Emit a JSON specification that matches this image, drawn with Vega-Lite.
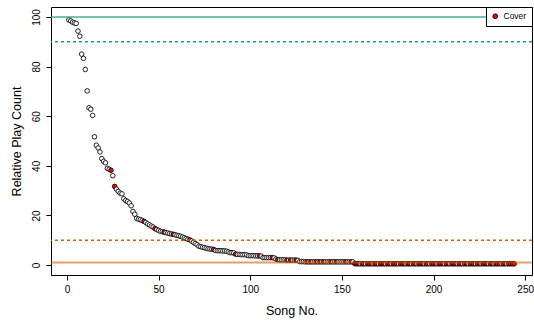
{
  "$schema": "https://vega.github.io/schema/vega-lite/v6.json",
  "width": 481,
  "height": 268,
  "autosize": "none",
  "padding": {"left": 51, "top": 7, "right": 2, "bottom": 47},
  "config": {
    "font": "Liberation Sans",
    "view": {"stroke": "black", "strokeWidth": 1},
    "axis": {"domain": false, "grid": false, "tickColor": "black", "tickSize": 5, "labelFontSize": 10, "labelColor": "black", "titleFontSize": 12.5, "titleFontWeight": "normal", "titleColor": "black"}
  },
  "layer": [
    {
      "data": {"values": [
        {"song":1,"count":98.8,"type":"Original"},{"song":2,"count":98.4,"type":"Original"},{"song":3,"count":97.9,"type":"Original"},{"song":4,"count":97.6,"type":"Original"},{"song":5,"count":97.4,"type":"Original"},
        {"song":6,"count":94.3,"type":"Original"},{"song":7,"count":92.2,"type":"Original"},{"song":8,"count":85.0,"type":"Original"},{"song":9,"count":83.3,"type":"Original"},{"song":10,"count":78.8,"type":"Original"},
        {"song":11,"count":70.2,"type":"Original"},{"song":12,"count":63.4,"type":"Original"},{"song":13,"count":62.8,"type":"Original"},{"song":14,"count":60.3,"type":"Original"},{"song":15,"count":51.7,"type":"Original"},
        {"song":16,"count":48.3,"type":"Original"},{"song":17,"count":47.2,"type":"Original"},{"song":18,"count":45.6,"type":"Original"},{"song":19,"count":42.9,"type":"Original"},{"song":20,"count":41.8,"type":"Original"},
        {"song":21,"count":41.2,"type":"Original"},{"song":22,"count":39.0,"type":"Original"},{"song":23,"count":38.6,"type":"Original"},{"song":24,"count":38.2,"type":"Cover"},{"song":25,"count":36.0,"type":"Original"},
        {"song":26,"count":31.7,"type":"Cover"},{"song":27,"count":30.6,"type":"Original"},{"song":28,"count":29.7,"type":"Original"},{"song":29,"count":29.0,"type":"Original"},{"song":30,"count":28.7,"type":"Original"},
        {"song":31,"count":26.7,"type":"Original"},{"song":32,"count":26.0,"type":"Original"},{"song":33,"count":25.6,"type":"Original"},{"song":34,"count":25.0,"type":"Original"},{"song":35,"count":23.9,"type":"Original"},
        {"song":36,"count":21.6,"type":"Original"},{"song":37,"count":20.5,"type":"Original"},{"song":38,"count":18.8,"type":"Original"},{"song":39,"count":18.5,"type":"Original"},{"song":40,"count":18.3,"type":"Original"},
        {"song":41,"count":18.0,"type":"Original"},{"song":42,"count":17.6,"type":"Cover"},{"song":43,"count":17.2,"type":"Original"},{"song":44,"count":16.6,"type":"Original"},{"song":45,"count":16.2,"type":"Original"},
        {"song":46,"count":15.7,"type":"Original"},{"song":47,"count":15.3,"type":"Original"},{"song":48,"count":14.7,"type":"Cover"},{"song":49,"count":14.3,"type":"Original"},{"song":50,"count":14.0,"type":"Original"},
        {"song":51,"count":13.6,"type":"Original"},{"song":52,"count":13.5,"type":"Original"},{"song":53,"count":13.3,"type":"Cover"},{"song":54,"count":13.1,"type":"Original"},{"song":55,"count":12.9,"type":"Original"},
        {"song":56,"count":12.7,"type":"Original"},{"song":57,"count":12.5,"type":"Original"},{"song":58,"count":12.4,"type":"Cover"},{"song":59,"count":12.2,"type":"Original"},{"song":60,"count":12.0,"type":"Original"},
        {"song":61,"count":11.8,"type":"Original"},{"song":62,"count":11.6,"type":"Original"},{"song":63,"count":11.3,"type":"Original"},{"song":64,"count":11.0,"type":"Original"},{"song":65,"count":10.7,"type":"Original"},
        {"song":66,"count":10.4,"type":"Original"},{"song":67,"count":10.2,"type":"Cover"},{"song":68,"count":9.7,"type":"Original"},{"song":69,"count":9.2,"type":"Original"},{"song":70,"count":8.7,"type":"Original"},
        {"song":71,"count":8.2,"type":"Original"},{"song":72,"count":7.6,"type":"Original"},{"song":73,"count":7.4,"type":"Original"},{"song":74,"count":7.2,"type":"Original"},{"song":75,"count":7.0,"type":"Original"},
        {"song":76,"count":6.8,"type":"Original"},{"song":77,"count":6.6,"type":"Original"},{"song":78,"count":6.5,"type":"Original"},{"song":79,"count":6.4,"type":"Original"},{"song":80,"count":6.3,"type":"Cover"},
        {"song":81,"count":5.9,"type":"Original"},{"song":82,"count":5.8,"type":"Original"},{"song":83,"count":5.8,"type":"Original"},{"song":84,"count":5.8,"type":"Original"},{"song":85,"count":5.7,"type":"Original"},
        {"song":86,"count":5.7,"type":"Original"},{"song":87,"count":5.6,"type":"Original"},{"song":88,"count":5.3,"type":"Original"},{"song":89,"count":5.0,"type":"Original"},{"song":90,"count":5.0,"type":"Original"},
        {"song":91,"count":4.9,"type":"Original"},{"song":92,"count":4.4,"type":"Cover"},{"song":93,"count":4.3,"type":"Original"},{"song":94,"count":4.3,"type":"Original"},{"song":95,"count":4.2,"type":"Original"},
        {"song":96,"count":4.2,"type":"Original"},{"song":97,"count":4.2,"type":"Original"},{"song":98,"count":4.1,"type":"Original"},{"song":99,"count":3.8,"type":"Original"},{"song":100,"count":3.8,"type":"Original"},
        {"song":101,"count":3.8,"type":"Original"},{"song":102,"count":3.8,"type":"Original"},{"song":103,"count":3.7,"type":"Original"},{"song":104,"count":3.7,"type":"Original"},{"song":105,"count":3.7,"type":"Cover"},
        {"song":106,"count":3.6,"type":"Original"},{"song":107,"count":3.0,"type":"Original"},{"song":108,"count":3.0,"type":"Original"},{"song":109,"count":3.0,"type":"Original"},{"song":110,"count":3.0,"type":"Original"},
        {"song":111,"count":3.0,"type":"Original"},{"song":112,"count":3.0,"type":"Cover"},{"song":113,"count":2.9,"type":"Original"},{"song":114,"count":2.4,"type":"Original"},{"song":115,"count":2.2,"type":"Cover"},
        {"song":116,"count":2.1,"type":"Original"},{"song":117,"count":2.1,"type":"Original"},{"song":118,"count":2.1,"type":"Original"},{"song":119,"count":2.1,"type":"Original"},{"song":120,"count":2.0,"type":"Cover"},
        {"song":121,"count":2.0,"type":"Original"},{"song":122,"count":2.0,"type":"Cover"},{"song":123,"count":2.0,"type":"Original"},{"song":124,"count":2.0,"type":"Original"},{"song":125,"count":2.0,"type":"Cover"},
        {"song":126,"count":1.9,"type":"Original"},{"song":127,"count":1.4,"type":"Original"},{"song":128,"count":1.4,"type":"Original"},{"song":129,"count":1.4,"type":"Original"},{"song":130,"count":1.3,"type":"Original"},
        {"song":131,"count":1.3,"type":"Cover"},{"song":132,"count":1.3,"type":"Original"},{"song":133,"count":1.3,"type":"Cover"},{"song":134,"count":1.3,"type":"Original"},{"song":135,"count":1.3,"type":"Original"},
        {"song":136,"count":1.3,"type":"Cover"},{"song":137,"count":1.3,"type":"Original"},{"song":138,"count":1.3,"type":"Cover"},{"song":139,"count":1.3,"type":"Original"},{"song":140,"count":1.3,"type":"Cover"},
        {"song":141,"count":1.3,"type":"Original"},{"song":142,"count":1.3,"type":"Original"},{"song":143,"count":1.3,"type":"Original"},{"song":144,"count":1.3,"type":"Cover"},{"song":145,"count":1.3,"type":"Original"},
        {"song":146,"count":1.3,"type":"Original"},{"song":147,"count":1.3,"type":"Cover"},{"song":148,"count":1.3,"type":"Original"},{"song":149,"count":1.3,"type":"Original"},{"song":150,"count":1.3,"type":"Original"},
        {"song":151,"count":1.3,"type":"Original"},{"song":152,"count":1.3,"type":"Cover"},{"song":153,"count":1.3,"type":"Original"},{"song":154,"count":1.3,"type":"Original"},{"song":155,"count":1.3,"type":"Cover"},
        {"song":156,"count":1.3,"type":"Original"},{"song":157,"count":0.6,"type":"Cover"},{"song":158,"count":0.5,"type":"Cover"},{"song":159,"count":0.5,"type":"Cover"},{"song":160,"count":0.5,"type":"Original"},
        {"song":161,"count":0.5,"type":"Cover"},{"song":162,"count":0.5,"type":"Cover"},{"song":163,"count":0.5,"type":"Original"},{"song":164,"count":0.5,"type":"Cover"},{"song":165,"count":0.5,"type":"Cover"},
        {"song":166,"count":0.5,"type":"Cover"},{"song":167,"count":0.5,"type":"Original"},{"song":168,"count":0.5,"type":"Cover"},{"song":169,"count":0.5,"type":"Cover"},{"song":170,"count":0.5,"type":"Original"},
        {"song":171,"count":0.5,"type":"Cover"},{"song":172,"count":0.5,"type":"Cover"},{"song":173,"count":0.5,"type":"Cover"},{"song":174,"count":0.5,"type":"Original"},{"song":175,"count":0.5,"type":"Cover"},
        {"song":176,"count":0.5,"type":"Cover"},{"song":177,"count":0.5,"type":"Original"},{"song":178,"count":0.5,"type":"Cover"},{"song":179,"count":0.5,"type":"Cover"},{"song":180,"count":0.5,"type":"Cover"},
        {"song":181,"count":0.5,"type":"Original"},{"song":182,"count":0.5,"type":"Cover"},{"song":183,"count":0.5,"type":"Cover"},{"song":184,"count":0.5,"type":"Cover"},{"song":185,"count":0.5,"type":"Original"},
        {"song":186,"count":0.5,"type":"Cover"},{"song":187,"count":0.5,"type":"Cover"},{"song":188,"count":0.5,"type":"Original"},{"song":189,"count":0.5,"type":"Cover"},{"song":190,"count":0.5,"type":"Cover"},
        {"song":191,"count":0.5,"type":"Original"},{"song":192,"count":0.5,"type":"Cover"},{"song":193,"count":0.5,"type":"Cover"},{"song":194,"count":0.5,"type":"Cover"},{"song":195,"count":0.5,"type":"Original"},
        {"song":196,"count":0.5,"type":"Cover"},{"song":197,"count":0.5,"type":"Cover"},{"song":198,"count":0.5,"type":"Original"},{"song":199,"count":0.5,"type":"Cover"},{"song":200,"count":0.5,"type":"Cover"},
        {"song":201,"count":0.5,"type":"Cover"},{"song":202,"count":0.5,"type":"Original"},{"song":203,"count":0.5,"type":"Cover"},{"song":204,"count":0.5,"type":"Cover"},{"song":205,"count":0.5,"type":"Cover"},
        {"song":206,"count":0.5,"type":"Original"},{"song":207,"count":0.5,"type":"Cover"},{"song":208,"count":0.5,"type":"Cover"},{"song":209,"count":0.5,"type":"Original"},{"song":210,"count":0.5,"type":"Cover"},
        {"song":211,"count":0.5,"type":"Cover"},{"song":212,"count":0.5,"type":"Cover"},{"song":213,"count":0.5,"type":"Original"},{"song":214,"count":0.5,"type":"Cover"},{"song":215,"count":0.5,"type":"Cover"},
        {"song":216,"count":0.5,"type":"Original"},{"song":217,"count":0.5,"type":"Cover"},{"song":218,"count":0.5,"type":"Cover"},{"song":219,"count":0.5,"type":"Original"},{"song":220,"count":0.5,"type":"Cover"},
        {"song":221,"count":0.5,"type":"Cover"},{"song":222,"count":0.5,"type":"Cover"},{"song":223,"count":0.5,"type":"Original"},{"song":224,"count":0.5,"type":"Cover"},{"song":225,"count":0.5,"type":"Cover"},
        {"song":226,"count":0.5,"type":"Original"},{"song":227,"count":0.5,"type":"Cover"},{"song":228,"count":0.5,"type":"Cover"},{"song":229,"count":0.5,"type":"Cover"},{"song":230,"count":0.5,"type":"Original"},
        {"song":231,"count":0.5,"type":"Cover"},{"song":232,"count":0.5,"type":"Cover"},{"song":233,"count":0.5,"type":"Original"},{"song":234,"count":0.5,"type":"Cover"},{"song":235,"count":0.5,"type":"Cover"},
        {"song":236,"count":0.5,"type":"Cover"},{"song":237,"count":0.5,"type":"Original"},{"song":238,"count":0.5,"type":"Cover"},{"song":239,"count":0.5,"type":"Cover"},{"song":240,"count":0.5,"type":"Original"},
        {"song":241,"count":0.5,"type":"Cover"},{"song":242,"count":0.5,"type":"Cover"},{"song":243,"count":0.5,"type":"Cover"},{"song":244,"count":0.5,"type":"Cover"}
      ]},
      "mark": {"type": "point", "shape": "circle", "filled": true, "stroke": "black", "strokeWidth": 0.85, "size": 21, "opacity": 1},
      "encoding": {
        "x": {"field": "song", "type": "quantitative", "scale": {"domain": [-8.72, 253.72], "nice": false, "zero": false},
              "axis": {"values": [0, 50, 100, 150, 200, 250], "title": "Song No.", "labelPadding": 4, "titlePadding": 10}},
        "y": {"field": "count", "type": "quantitative", "scale": {"domain": [-4, 104], "nice": false, "zero": false},
              "axis": {"values": [0, 20, 40, 60, 80, 100], "title": "Relative Play Count", "labelAngle": -90, "labelAlign": "center", "labelBaseline": "bottom", "labelPadding": 5, "titlePadding": 8}},
        "fill": {"field": "type", "type": "nominal", "scale": {"domain": ["Cover", "Original"], "range": ["#FF0000", "#FFFFFF"]},
                 "legend": {"values": ["Cover"], "title": null, "orient": "top-right", "offset": 0, "padding": 5, "strokeColor": "black", "fillColor": "white", "symbolType": "circle", "symbolSize": 22, "symbolStrokeColor": "black", "symbolStrokeWidth": 1, "symbolFillColor": "#FF0000", "labelFontSize": 8.5, "labelColor": "black", "labelOffset": 4, "cornerRadius": 0}}
      }
    },
    {
      "data": {"values": [{"count": 100}]},
      "mark": {"type": "rule", "color": "#1B9E77", "strokeWidth": 1.5, "opacity": 0.8},
      "encoding": {"y": {"field": "count", "type": "quantitative"}}
    },
    {
      "data": {"values": [{"count": 90}]},
      "mark": {"type": "rule", "color": "#1B9E77", "strokeWidth": 1.3, "strokeDash": [3, 3]},
      "encoding": {"y": {"field": "count", "type": "quantitative"}}
    },
    {
      "data": {"values": [{"count": 10}]},
      "mark": {"type": "rule", "color": "#D95F02", "strokeWidth": 1.3, "strokeDash": [3, 3]},
      "encoding": {"y": {"field": "count", "type": "quantitative"}}
    },
    {
      "data": {"values": [{"count": 1}]},
      "mark": {"type": "rule", "color": "#D95F02", "strokeWidth": 2, "opacity": 0.6},
      "encoding": {"y": {"field": "count", "type": "quantitative"}}
    }
  ]
}
